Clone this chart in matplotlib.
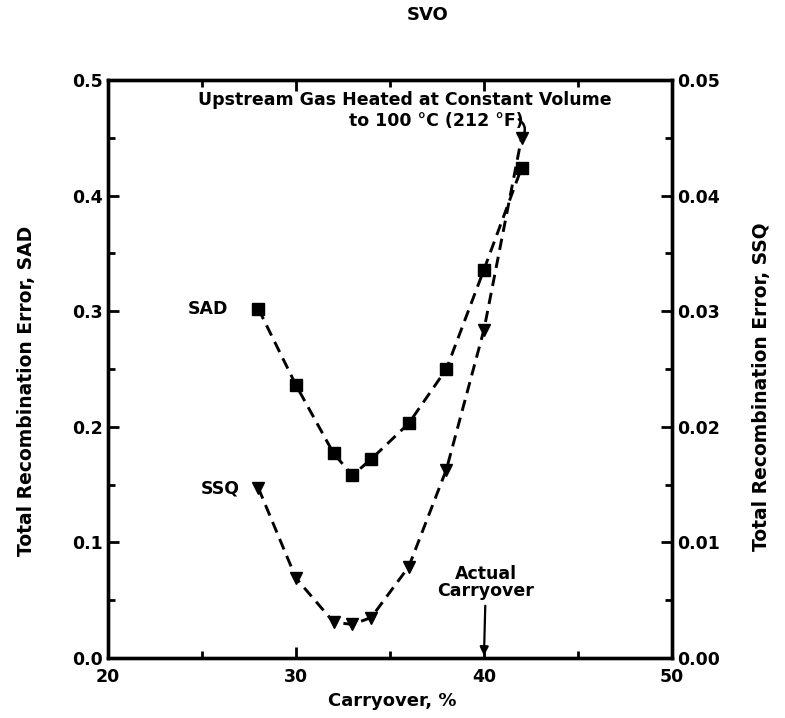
import matplotlib
matplotlib.use("Agg")
import matplotlib.pyplot as plt
from matplotlib.ticker import MultipleLocator

# carryover (%) and the two error measures
carryover = [28, 30, 32, 33, 34, 36, 38, 40, 42]
sad = [0.302, 0.236, 0.177, 0.158, 0.172, 0.203, 0.250, 0.336, 0.424]
ssq = [0.0147, 0.0069, 0.0031, 0.0029, 0.0035, 0.0079, 0.0163, 0.0284, 0.0450]
actual_carryover = 40

plt.rcParams['font.family'] = ['DejaVu Sans']
plt.rcParams['font.weight'] = 'bold'
plt.rcParams['axes.labelweight'] = 'bold'

fig = plt.figure(figsize=(7.85, 7.18), dpi=100)
ax = fig.add_axes([0.1376, 0.0836, 0.7184, 0.805])
ax2 = ax.twinx()

dash = (0, (3.9, 2.4))
ax.plot(carryover, sad, color='black', linestyle=dash, linewidth=2.1,
        marker='s', markersize=8)
ax2.plot(carryover, ssq, color='black', linestyle=dash, linewidth=2.1,
         marker='v', markersize=8)

ax.set_xlim(20, 50)
ax.set_ylim(0, 0.5)
ax2.set_ylim(0, 0.05)

ax.xaxis.set_major_locator(MultipleLocator(10))
ax.xaxis.set_minor_locator(MultipleLocator(5))
ax.yaxis.set_major_locator(MultipleLocator(0.1))
ax.yaxis.set_minor_locator(MultipleLocator(0.05))
ax2.yaxis.set_major_locator(MultipleLocator(0.01))
ax2.yaxis.set_minor_locator(MultipleLocator(0.005))
ax.yaxis.set_major_formatter(plt.FormatStrFormatter('%.1f'))
ax2.yaxis.set_major_formatter(plt.FormatStrFormatter('%.2f'))

ax.tick_params(axis='both', which='both', direction='in', width=2, labelsize=12.5,
               top=True, right=False)
ax.tick_params(axis='x', which='major', pad=7)
ax.tick_params(which='major', length=8)
ax.tick_params(which='minor', length=5)
ax2.tick_params(axis='y', which='both', direction='in', width=2, labelsize=12.5)
ax2.tick_params(which='major', length=8)
ax2.tick_params(which='minor', length=5)

for a in (ax, ax2):
    for s in a.spines.values():
        s.set_linewidth(2.4)

ax.set_xlabel('Carryover, %', fontsize=13)
ax.set_ylabel('Total Recombination Error, SAD', fontsize=13.5)
ax2.set_ylabel('Total Recombination Error, SSQ', fontsize=13.5)
ax.xaxis.set_label_coords(0.504, -0.059)
ax.yaxis.set_label_coords(-0.127, 0.462)
ax2.yaxis.set_label_coords(1.142, 0.47)
fig.text(0.545, 0.979, 'SVO', ha='center', va='center', fontsize=13)

ax.text(26.4, sad[0], 'SAD', ha='right', va='center', fontsize=12.5)
ax2.text(27.0, ssq[0], 'SSQ', ha='right', va='center', fontsize=12.5)

ax.text(35.8, 0.4827, 'Upstream Gas Heated at Constant Volume',
        ha='center', va='center', fontsize=12.5)
ax.text(42.1, 0.4645, 'to 100 °C (212 °F)',
        ha='right', va='center', fontsize=12.5)
ax2.annotate('', xy=(42, ssq[-1]), xytext=(41.85, 0.0466),
             arrowprops=dict(arrowstyle='-', color='black', lw=1.8,
                             shrinkA=0, shrinkB=4,
                             connectionstyle='arc3,rad=-0.5'))

ax.annotate('Actual\nCarryover', xy=(actual_carryover, 0.002),
            xytext=(actual_carryover + 0.1, 0.05), ha='center', va='bottom',
            fontsize=12.5, linespacing=0.95,
            arrowprops=dict(arrowstyle='-|>', color='black', lw=1.6,
                            shrinkA=2, shrinkB=0))

fig.savefig('out.png', dpi=100)
